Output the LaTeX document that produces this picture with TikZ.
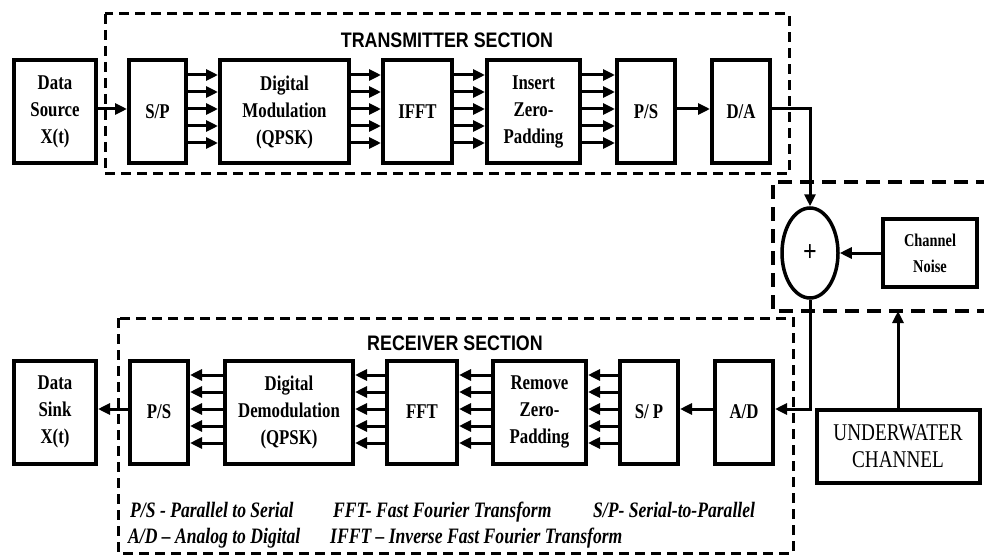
\documentclass[tikz,border=0pt]{standalone}
\usepackage{fontspec}
\setmainfont[FakeStretch=0.8]{Liberation Serif}
\newfontfamily\headfont[FakeStretch=0.85]{Liberation Sans}
\usetikzlibrary{arrows.meta,shapes.geometric}

\begin{document}
\begin{tikzpicture}[x=1pt, y=-1pt, >={Triangle[length=12pt,width=11pt]},
  blk/.style={draw, line width=4pt, align=center, inner sep=0pt,
    minimum height=103pt, font=\fontsize{21}{27}\selectfont\bfseries},
  sig/.style={->, line width=3pt},
  zone/.style={line width=3pt, dash pattern=on 10pt off 6pt},
  chzone/.style={line width=4.5pt, dash pattern=on 14pt off 8pt},
  head/.style={font=\headfont\fontsize{21}{24}\selectfont\bfseries},
  note/.style={anchor=base west, inner sep=0pt,
    font=\fontsize{22}{24}\selectfont\bfseries\itshape}]

% Frame
\useasboundingbox (0,0) rectangle (984,556);

% Section outlines
\draw[zone] (105,14) rectangle (789,174);
\draw[zone] (118,318) rectangle (793,553);
\draw[chzone] (990,182) -- (773,182) -- (773,311) -- (990,311);
\coordinate (chbot) at (898,311);

\node[head] (txtitle) at (447,40) {TRANSMITTER SECTION};
\node[head] (rxtitle) at (455,343) {RECEIVER SECTION};

% Transmitter chain
\node[blk, minimum width=82pt] (src) at (55,112) {Data\\Source\\X(t)};
\node[blk, minimum width=57pt] (sp) at (157.5,112) {S/P};
\node[blk, minimum width=129pt] (mod) at (284.5,112) {Digital\\Modulation\\(QPSK)};
\node[blk, minimum width=69pt] (ifft) at (417.5,112) {IFFT};
\node[blk, minimum width=93pt] (ins) at (533.5,112) {Insert\\Zero-\\Padding};
\node[blk, minimum width=58pt] (ps) at (646,112) {P/S};
\node[blk, minimum width=58pt] (da) at (741,112) {D/A};

% Channel
\node[draw, ellipse, line width=3.5pt, minimum width=56pt, minimum height=90pt,
  inner sep=0pt, font=\fontsize{30}{30}\selectfont\bfseries] (add) at (810,253) {+};
\node[draw, line width=4pt, minimum width=94pt, minimum height=68pt,
  align=center, inner sep=0pt, font=\fontsize{18}{26}\selectfont\bfseries] (noise) at (930,253) {Channel\\Noise};
\node[draw, line width=4pt, minimum width=163pt, minimum height=73pt,
  align=center, inner sep=0pt, font=\fontsize{24}{27}\selectfont] (uw) at (898,446.5) {UNDERWATER\\CHANNEL};

% Receiver chain
\node[blk, minimum width=82pt] (sink) at (55,412) {Data\\Sink\\X(t)};
\node[blk, minimum width=58pt] (rps) at (159,412) {P/S};
\node[blk, minimum width=128pt] (demod) at (289,412) {Digital\\Demodulation\\(QPSK)};
\node[blk, minimum width=70pt] (fft) at (422,412) {FFT};
\node[blk, minimum width=93pt] (rem) at (539.5,412) {Remove\\Zero-\\Padding};
\node[blk, minimum width=58pt] (rsp) at (649,412) {S/ P};
\node[blk, minimum width=58pt] (ad) at (744,412) {A/D};

% Parallel lines
\foreach \a/\b in {sp/mod, mod/ifft, ifft/ins, ins/ps}
  \foreach \dy in {-37,-20,-3,14,31}
    \draw[sig] ([shift={(0,\dy)}]\a.east) -- ([shift={(0,\dy)}]\b.west);
\foreach \a/\b in {rsp/rem, rem/fft, fft/demod, demod/rps}
  \foreach \dy in {-37,-20,-3,14,31}
    \draw[sig] ([shift={(0,\dy)}]\a.west) -- ([shift={(0,\dy)}]\b.east);

% Serial lines
\draw[sig] ([shift={(0,-3)}]src.east) -- ([shift={(0,-3)}]sp.west);
\draw[sig] ([shift={(0,-3)}]ps.east) -- ([shift={(0,-3)}]da.west);
\draw[sig] ([shift={(0,-3)}]da.east) -| (add.north);
\draw[sig] (noise.west) -- (add.east);
\draw[sig] (add.south) |- ([shift={(0,-3)}]ad.east);
\draw[sig] (uw.north) -- (chbot);
\draw[sig] ([shift={(0,-3)}]ad.west) -- ([shift={(0,-3)}]rsp.east);
\draw[sig] ([shift={(0,-3)}]rps.west) -- ([shift={(0,-3)}]sink.east);

% Abbreviations
\node[note] (nps) at (130,517) {P/S - Parallel to Serial};
\node[note] (nfft) at (333,517) {FFT- Fast Fourier Transform};
\node[note] (nsp) at (593,517) {S/P- Serial-to-Parallel};
\node[note] (nad) at (128,543) {A/D -- Analog to Digital};
\node[note] (nifft) at (330,543) {IFFT -- Inverse Fast Fourier Transform};

\end{tikzpicture}
\end{document}
